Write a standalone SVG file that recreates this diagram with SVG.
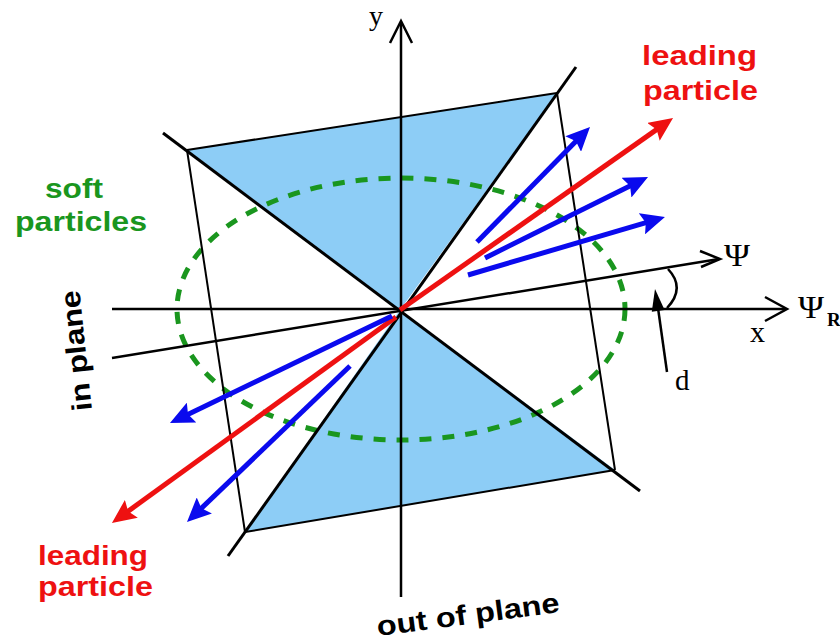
<svg xmlns="http://www.w3.org/2000/svg" width="840" height="642" viewBox="0 0 840 642">
<style>
.plane{fill:#8dcdf6;stroke:none}
.edge{stroke:#000;stroke-width:2;fill:none}
.thick{stroke:#000;stroke-width:3;fill:none}
.axis{stroke:#000;stroke-width:2.5;fill:none}
.open{stroke:#000;stroke-width:2.5;fill:none;stroke-linejoin:miter}
.soft{fill:none;stroke:#1a961e;stroke-width:5;stroke-dasharray:12 11}
.red{stroke:#ee1111;stroke-width:5;fill:none}
.blue{stroke:#0a0aee;stroke-width:5;fill:none}
.lab{font-family:"Liberation Sans",Arial,sans-serif;font-weight:bold;font-size:28px}
.ser{font-family:"Liberation Serif","Times New Roman",serif}
</style>
<defs>
<marker id="ahr" viewBox="0 0 24 22" refX="6" refY="11" markerWidth="24" markerHeight="22" markerUnits="userSpaceOnUse" orient="auto">
<path d="M0,0 L24,11 L0,22 L4,11 z" fill="#ee1111"/>
</marker>
<marker id="ahb" viewBox="0 0 24 22" refX="6" refY="11" markerWidth="24" markerHeight="22" markerUnits="userSpaceOnUse" orient="auto">
<path d="M0,0 L24,11 L0,22 L4,11 z" fill="#0a0aee"/>
</marker>
</defs>

<g id="planes">
<polygon class="plane" points="187,150 557,93 400,310"/>
<polygon class="plane" points="400,310 615,470 245,532"/>
</g>

<g id="soft-ellipse">
<ellipse class="soft" cx="401" cy="309" rx="224" ry="131"/>
</g>

<g id="connectors">
<line class="edge" x1="187" y1="150" x2="557" y2="93"/>
<line class="edge" x1="245" y1="532" x2="615" y2="470"/>
<line class="edge" x1="187" y1="150" x2="245" y2="532"/>
<line class="edge" x1="557" y1="93" x2="615" y2="470"/>
<line class="thick" x1="576" y1="67" x2="228" y2="556"/>
<line class="thick" x1="163" y1="133" x2="640" y2="491"/>
<line class="axis" x1="112" y1="309" x2="786" y2="309"/>
<polyline class="open" points="765,297 787,309 765,321"/>
<line class="axis" x1="112" y1="358" x2="719" y2="259"/>
<polyline class="open" points="700,251 720,259 701,267"/>
<line class="axis" x1="401" y1="597" x2="401" y2="22"/>
<polyline class="open" points="390,43 401,21 412,43"/>
<path class="axis" d="M668,269 Q686,288 667,308"/>
<line class="axis" x1="667" y1="372" x2="658" y2="308"/>
<polygon points="655,289 664.6,310 651.8,311.7" fill="#000"/>
<line class="red" x1="400" y1="310" x2="658.3" y2="128.4" marker-end="url(#ahr)"/>
<line class="red" x1="396" y1="317" x2="126.5" y2="512.4" marker-end="url(#ahr)"/>
<line class="blue" x1="477" y1="242" x2="577.4" y2="139.8" marker-end="url(#ahb)"/>
<line class="blue" x1="485" y1="258" x2="631.9" y2="185" marker-end="url(#ahb)"/>
<line class="blue" x1="468" y1="275" x2="647.7" y2="222.1" marker-end="url(#ahb)"/>
<line class="blue" x1="392" y1="316" x2="186.2" y2="415.2" marker-end="url(#ahb)"/>
<line class="blue" x1="350" y1="366" x2="200" y2="509.6" marker-end="url(#ahb)"/>
</g>

<g id="label-leading-top" fill="#ee1111">
<text class="lab" x="642" y="65" textLength="115" lengthAdjust="spacingAndGlyphs">leading</text>
<text class="lab" x="643" y="100" textLength="115" lengthAdjust="spacingAndGlyphs">particle</text>
</g>
<g id="label-leading-bottom" fill="#ee1111">
<text class="lab" x="38" y="565" textLength="110" lengthAdjust="spacingAndGlyphs">leading</text>
<text class="lab" x="38" y="596" textLength="115" lengthAdjust="spacingAndGlyphs">particle</text>
</g>
<g id="label-soft" fill="#1a961e">
<text class="lab" x="45" y="198" textLength="58" lengthAdjust="spacingAndGlyphs">soft</text>
<text class="lab" x="15" y="231" textLength="132" lengthAdjust="spacingAndGlyphs">particles</text>
</g>
<g id="label-inplane" fill="#000">
<text class="lab" transform="translate(92,410) rotate(-96)" x="0" y="0" textLength="121" lengthAdjust="spacingAndGlyphs">in plane</text>
</g>
<g id="label-outplane" fill="#000">
<text class="lab" transform="translate(378,636) rotate(-7.5)" x="0" y="0" textLength="184" lengthAdjust="spacingAndGlyphs">out of plane</text>
</g>
<g id="axis-labels" fill="#000">
<text class="ser" x="369" y="25" font-size="28">y</text>
<text class="ser" x="724" y="266" font-size="32" textLength="26" lengthAdjust="spacingAndGlyphs">Ψ</text>
<text class="ser" x="798" y="318" font-size="32" textLength="26" lengthAdjust="spacingAndGlyphs">Ψ</text>
<text class="ser" x="827" y="326" font-size="19" font-weight="bold">R</text>
<text class="ser" x="750" y="342" font-size="30">x</text>
<text class="ser" x="675" y="390" font-size="29">d</text>
</g>
</svg>
